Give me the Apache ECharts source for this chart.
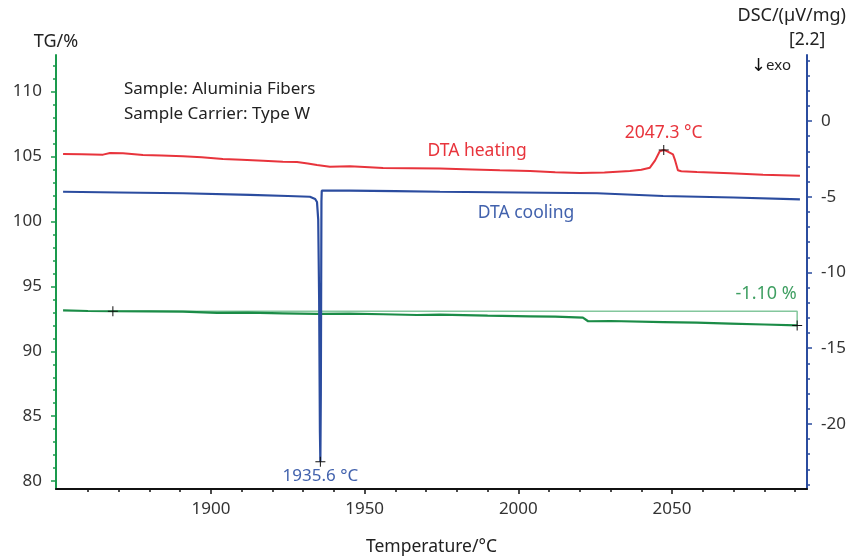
<!DOCTYPE html>
<html>
<head>
<meta charset="utf-8">
<script src="https://cdn.jsdelivr.net/npm/echarts@6/dist/echarts.min.js"></script>
<style>html,body{margin:0;padding:0;background:#fff}#c{width:856px;height:556px}</style>
</head>
<body>
<div id="c"></div>
<script>
// ---- data ----
const heatingT   = [1851.9,1858,1864.9,1867.2,1871.4,1877.9,1884,1890.9,1897,1903.9,1910,1917,1923.4,1928.0,1931.5,1934.5,1938.7,1945.2,1950,1956.0,1965,1974.5,1985,1994,2003.8,2012,2020.1,2028,2036.3,2040,2042.8,2044.5,2046.0,2047.3,2048.6,2050.3,2051.0,2051.9,2053,2058.1,2068.9,2079.6,2091.6];
const heatingDSC = [-2.18,-2.20,-2.22,-2.11,-2.13,-2.24,-2.28,-2.33,-2.40,-2.51,-2.56,-2.62,-2.69,-2.71,-2.80,-2.90,-3.02,-2.99,-3.04,-3.10,-3.12,-3.14,-3.20,-3.25,-3.30,-3.38,-3.43,-3.40,-3.30,-3.22,-3.08,-2.60,-2.00,-1.91,-2.02,-2.20,-2.60,-3.25,-3.32,-3.37,-3.45,-3.54,-3.61];

const coolingT   = [1851.9,1870,1890.9,1912.7,1925,1932.2,1933.9,1934.5,1934.9,1935.2,1935.45,1935.6,1935.75,1935.85,1935.95,1936.05,1945,1960,1974.5,2000,2025.6,2047.1,2070,2091.6];
const coolingDSC = [-4.67,-4.72,-4.77,-4.88,-4.95,-5.00,-5.15,-5.35,-6.5,-11.8,-20.5,-22.5,-18.0,-11.5,-5.3,-4.60,-4.60,-4.63,-4.67,-4.72,-4.77,-4.95,-5.05,-5.17];

const tgT   = [1851.9,1860,1868.1,1880,1890.9,1902.0,1912,1923.4,1934.5,1945,1956.0,1967.0,1974.5,1990,2003.8,2012,2021.0,2022.7,2030,2047.1,2058,2068.9,2080,2090.7];
const tgVal = [93.15,93.10,93.08,93.07,93.05,92.95,92.97,92.92,92.87,92.90,92.85,92.79,92.82,92.74,92.69,92.66,92.59,92.31,92.33,92.25,92.20,92.13,92.06,91.99];

const xMajor = [1900,1950,2000,2050];
const xMinor = [1860,1870,1880,1890,1910,1920,1930,1940,1960,1970,1980,1990,2010,2020,2030,2040,2060,2070,2080,2090];
const tgMajor = [80,85,90,95,100,105,110];
const tgMinor = [81,82,83,84,86,87,88,89,91,92,93,94,96,97,98,99,101,102,103,104,106,107,108,109,111,112];
const dscMajor = [-20,-15,-10,-5,0];
const dscMinor = [-24,-23,-22,-21,-19,-18,-17,-16,-14,-13,-12,-11,-9,-8,-7,-6,-4,-3,-2,-1,1,2,3,4];

// step evaluation: start and end of mass change
const stepStart = [1868.1, 93.08];
const stepEnd   = [2090.7, 91.99];
const stepLabel = '-1.10 %';
const stepLabelPos = [2080.6, 94.38];
const peakHeat = [2047.3, -1.91];
const peakCool = [1935.6, -22.5];
const heatLabelPos = [1986.6, -1.98];
const coolLabelPos = [2002.5, -6.07];

// ---- chart ----
const FONT = 'Noto Sans';
const RED = '#e8343c', BLUE = '#2b4c9f', GREEN = '#1b8c47';
const plus = 'path://M4.5,0h1v4.5h4.5v1h-4.5v4.5h-1v-4.5h-4.5v-1h4.5z';
const zip = (a,b) => a.map((v,i)=>[v,b[i]]);
const X = {min:1849.6, max:2093.9};
const TG = {min:79.4, max:112.8};
const DSC = {min:-24.3, max:4.36};
const plain = v => String(v);

const chart = echarts.init(document.getElementById('c'));
chart.setOption({
  animation:false,
  backgroundColor:'#fff',
  textStyle:{fontFamily:FONT},
  grid:{left:56,right:49,top:55,bottom:67,containLabel:false,outerBoundsMode:'none'},
  xAxis:[
    {type:'value',position:'bottom',min:X.min,max:X.max,
     name:'Temperature/°C',nameLocation:'middle',nameGap:49,
     nameTextStyle:{fontFamily:FONT,fontSize:17.5,color:'#222'},
     axisLine:{show:true,onZero:false,lineStyle:{color:'#111',width:2}},
     axisTick:{show:true,length:5,customValues:xMajor,lineStyle:{color:'#111',width:1.5}},
     axisLabel:{customValues:xMajor,formatter:plain,margin:12,fontFamily:FONT,fontSize:17,color:'#333'},
     splitLine:{show:false}},
    {type:'value',position:'bottom',min:X.min,max:X.max,
     axisLine:{show:false,onZero:false},
     axisTick:{show:true,length:3,customValues:xMinor,lineStyle:{color:'#111',width:1.5}},
     axisLabel:{show:false},splitLine:{show:false}}
  ],
  yAxis:[
    {type:'value',position:'left',min:TG.min,max:TG.max,
     name:'TG/%',nameLocation:'end',nameGap:4,
     nameTextStyle:{fontFamily:FONT,fontSize:18,color:'#222',align:'center'},
     axisLine:{show:true,onZero:false,lineStyle:{color:'#1a9a4c',width:2}},
     axisTick:{show:true,length:5,customValues:tgMajor,lineStyle:{color:'#1a9a4c',width:1.5}},
     axisLabel:{customValues:tgMajor,formatter:plain,margin:14,fontFamily:FONT,fontSize:17,color:'#333'},
     splitLine:{show:false}},
    {type:'value',position:'left',min:TG.min,max:TG.max,
     axisLine:{show:false,onZero:false},
     axisTick:{show:true,length:3,customValues:tgMinor,lineStyle:{color:'#1a9a4c',width:1.5}},
     axisLabel:{show:false},splitLine:{show:false}},
    {type:'value',position:'right',min:DSC.min,max:DSC.max,
     axisLine:{show:true,onZero:false,lineStyle:{color:BLUE,width:2}},
     axisTick:{show:true,length:5,customValues:dscMajor,lineStyle:{color:BLUE,width:1.5}},
     axisLabel:{customValues:dscMajor,formatter:plain,margin:14,fontFamily:FONT,fontSize:17,color:'#333'},
     splitLine:{show:false}},
    {type:'value',position:'right',min:DSC.min,max:DSC.max,
     axisLine:{show:false,onZero:false},
     axisTick:{show:true,length:3,customValues:dscMinor,lineStyle:{color:BLUE,width:1.5}},
     axisLabel:{show:false},splitLine:{show:false}}
  ],
  graphic:[
    {type:'text',left:124,top:77,style:{text:'Sample: Aluminia Fibers\nSample Carrier: Type W',fontFamily:FONT,fontSize:17,lineHeight:25,fill:'#222'}},
    {type:'text',right:10,top:7,style:{text:'DSC/(µV/mg)',fontFamily:FONT,fontSize:18,fill:'#222'}},
    {type:'text',left:789,top:31,style:{text:'[2.2]',fontFamily:FONT,fontSize:17.5,fill:'#222'}},
    {type:'text',left:751,top:57,style:{text:'{a|↓}{b|exo}',rich:{a:{fontSize:18,fill:'#111',fontFamily:'DejaVu Sans'},b:{fontSize:15,fill:'#222',fontFamily:FONT}}}}
  ],
  series:[
    {type:'line',name:'TG',xAxisIndex:0,yAxisIndex:0,data:zip(tgT,tgVal),showSymbol:false,
     lineStyle:{color:GREEN,width:2.2},z:3,
     markPoint:{symbol:plus,symbolSize:10,itemStyle:{color:'#111'},label:{show:false},
       data:[{coord:stepStart},{coord:stepEnd},
             {coord:stepLabelPos,symbolSize:0,label:{show:true,position:'inside',formatter:stepLabel,fontFamily:FONT,fontSize:18,color:'#3f9f62'}}]}},
    {type:'line',name:'step',xAxisIndex:0,yAxisIndex:0,
     data:[stepStart,[stepEnd[0],stepStart[1]],stepEnd],showSymbol:false,
     lineStyle:{color:'#84c79d',width:1.5},z:2,silent:true},
    {type:'line',name:'DTA heating',xAxisIndex:0,yAxisIndex:2,data:zip(heatingT,heatingDSC),showSymbol:false,
     lineStyle:{color:RED,width:2},z:3,
     markPoint:{symbol:plus,symbolSize:10,itemStyle:{color:'#111'},
       data:[{coord:peakHeat,label:{show:true,position:'top',distance:3,formatter:'2047.3 °C',fontFamily:FONT,fontSize:17.5,color:RED}},
             {coord:heatLabelPos,symbolSize:0,label:{show:true,position:'inside',formatter:'DTA heating',fontFamily:FONT,fontSize:17.5,color:RED}}]}},
    {type:'line',name:'DTA cooling',xAxisIndex:0,yAxisIndex:2,data:zip(coolingT,coolingDSC),showSymbol:false,
     lineStyle:{color:BLUE,width:2.2},z:3,
     markPoint:{symbol:plus,symbolSize:10,itemStyle:{color:'#111'},
       data:[{coord:peakCool,label:{show:true,position:'bottom',distance:1,formatter:'1935.6 °C',fontFamily:FONT,fontSize:17,color:'#4262ad'}},
             {coord:coolLabelPos,symbolSize:0,label:{show:true,position:'inside',formatter:'DTA cooling',fontFamily:FONT,fontSize:17.5,color:'#4262ad'}}]}}
  ]
});
</script>
</body>
</html>
